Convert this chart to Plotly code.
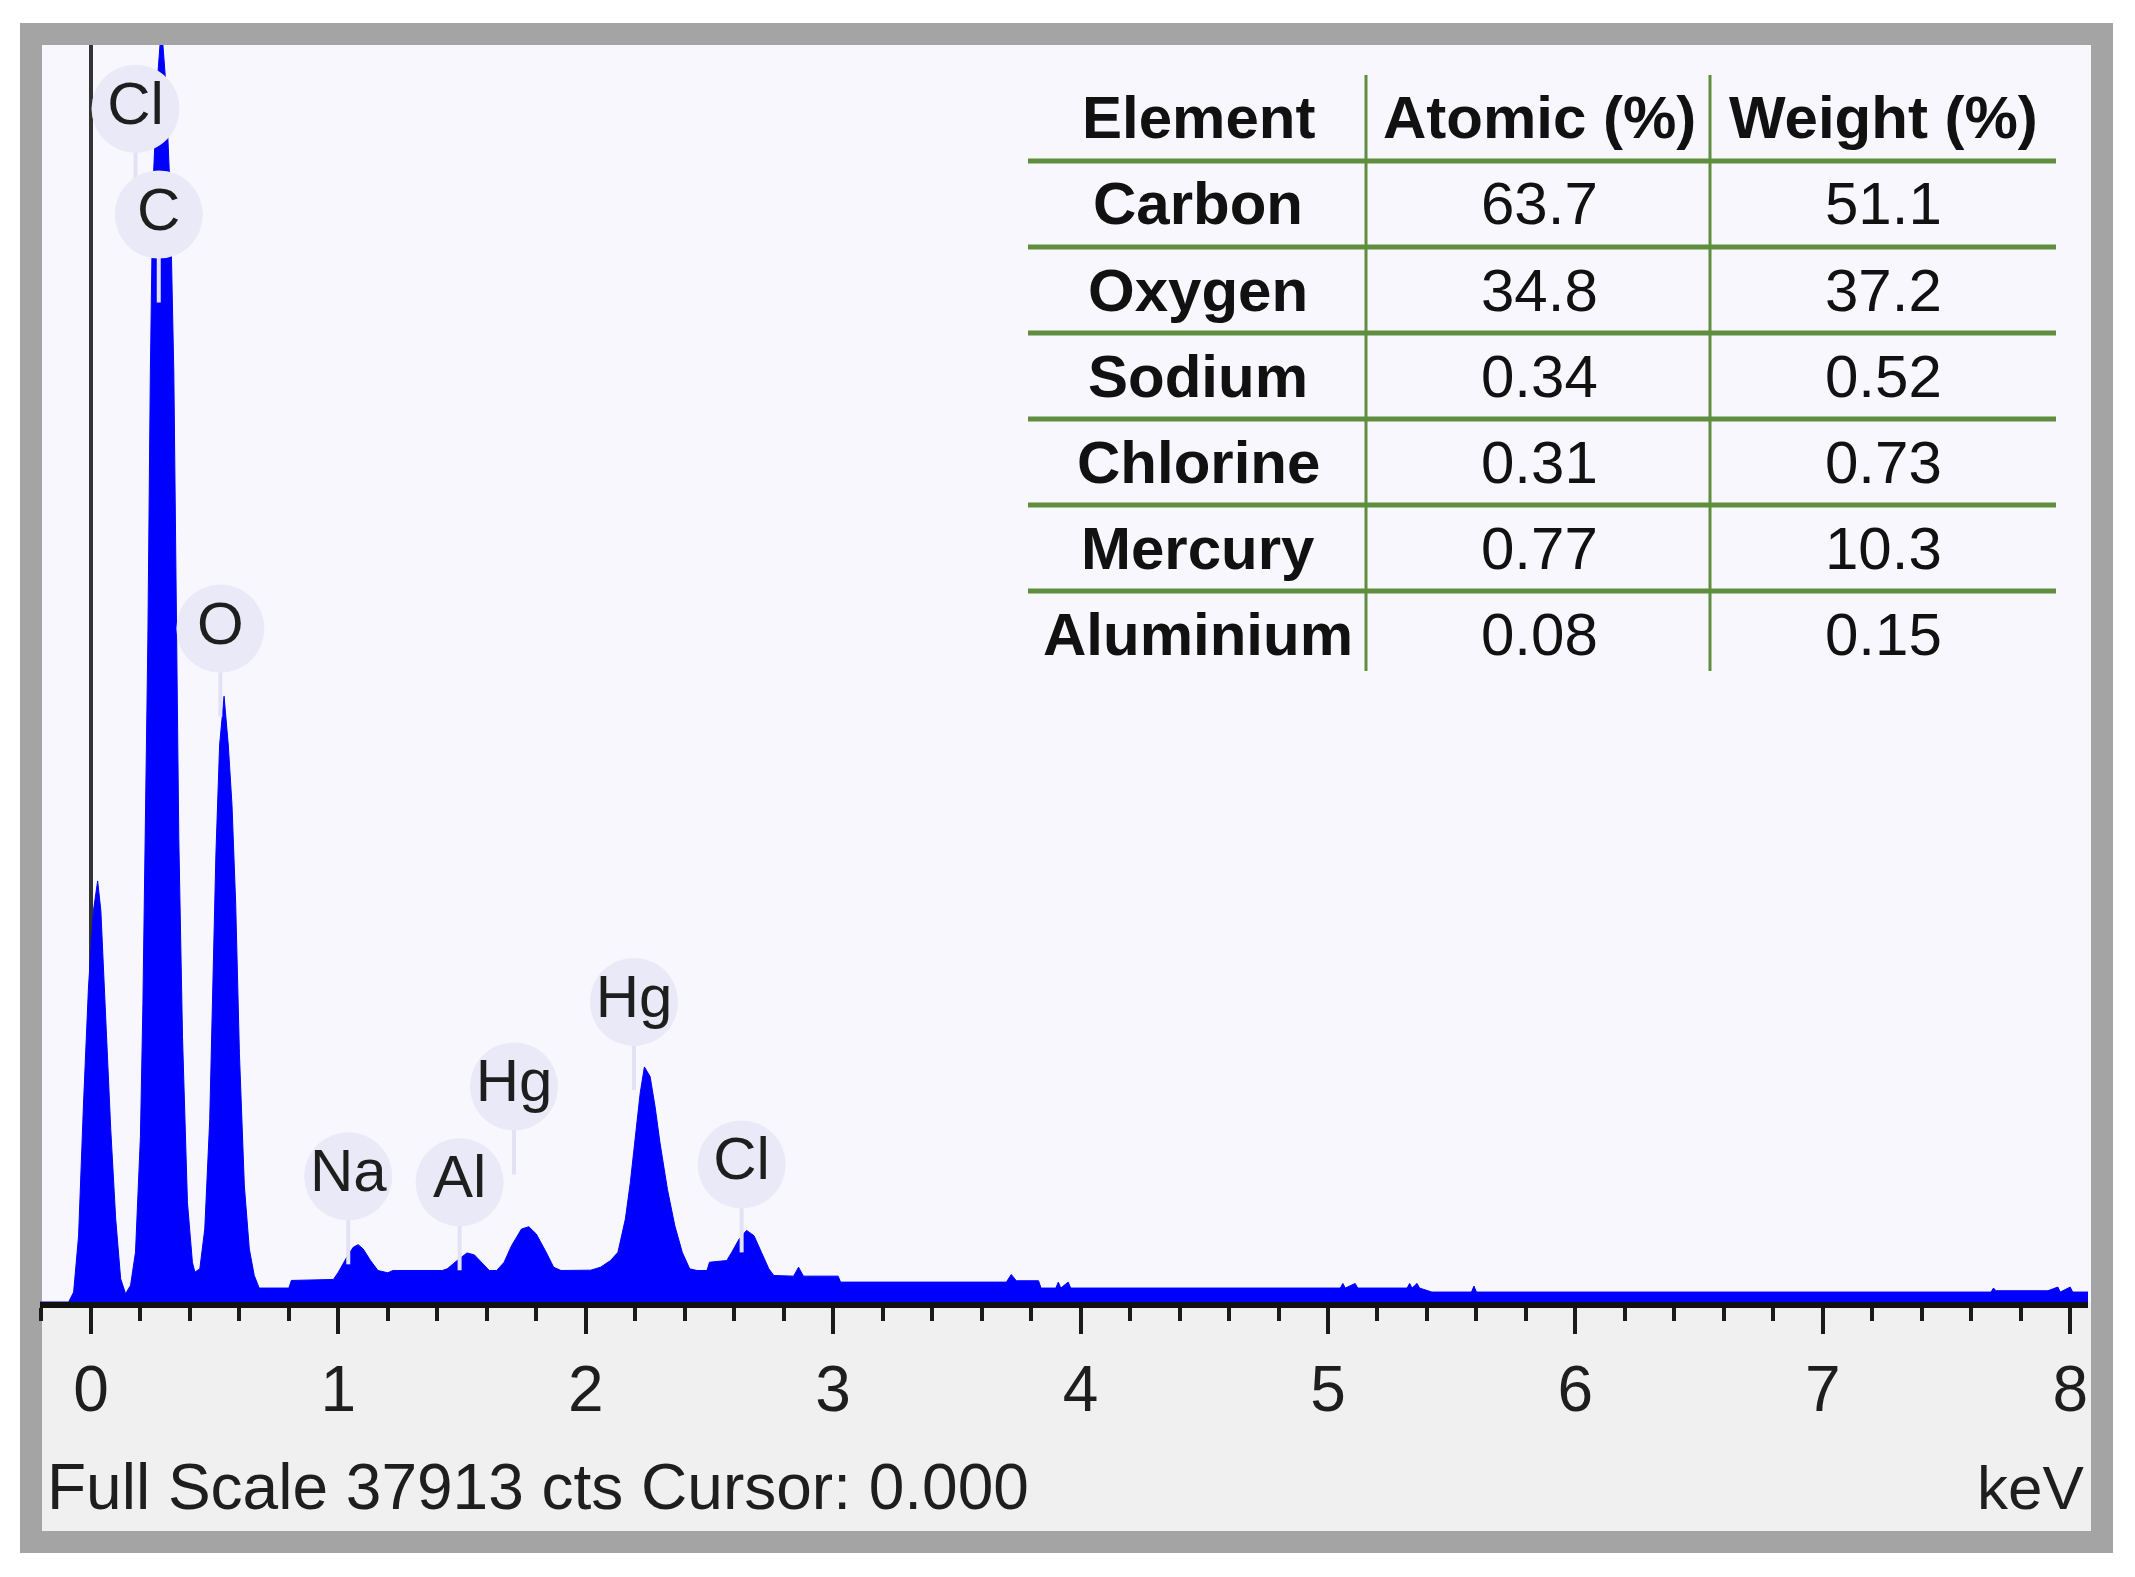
import plotly.graph_objects as go

# EDS spectrum
FULL_SCALE = 37913

energy_kev = [
    -0.205, -0.09, -0.07, -0.05, -0.03, -0.01, 0.01, 0.027, 0.04, 0.06, 0.08, 0.10, 0.12, 0.14,
    0.16, 0.18, 0.20, 0.21, 0.22, 0.23, 0.24, 0.25, 0.27, 0.285, 0.30, 0.32, 0.335, 0.345,
    0.355, 0.37, 0.39, 0.41, 0.42,
    0.44, 0.46, 0.48, 0.49, 0.505, 0.52, 0.538, 0.555, 0.57, 0.585, 0.60, 0.62, 0.64, 0.66, 0.68,
    0.80, 0.81, 0.98, 1.00, 1.03, 1.06, 1.08, 1.10, 1.13, 1.16, 1.20, 1.22, 1.42,
    1.44, 1.48, 1.52, 1.55, 1.58, 1.61, 1.64, 1.67, 1.70, 1.74, 1.77, 1.80, 1.84, 1.87, 1.90,
    2.02, 2.06, 2.10, 2.13, 2.16, 2.18, 2.20, 2.22, 2.237, 2.26, 2.28, 2.30, 2.33, 2.36, 2.39,
    2.42, 2.45, 2.49, 2.50, 2.57, 2.59, 2.62, 2.65, 2.68, 2.71, 2.74, 2.76, 2.84, 2.86, 2.88,
    3.02, 3.03, 3.70, 3.72, 3.74, 3.83, 3.84, 3.90, 3.91, 3.92, 3.95, 3.96,
    5.05, 5.06, 5.07, 5.11, 5.12, 5.32, 5.33, 5.34, 5.36, 5.37, 5.42, 5.58, 5.59, 5.60,
    7.68, 7.69, 7.70, 7.91, 7.95, 7.96, 8.00, 8.01, 8.072,
]
counts = [
    0, 0, 300, 2000, 6000, 9500, 11800, 12700, 11800, 8500, 5200, 2500, 700, 250,
    500, 1500, 5000, 9000, 14000, 20000, 28000, 33500, 37000, 38500, 37000, 33500, 28000, 20000,
    14000, 8000, 3000, 1200, 900,
    1000, 2200, 5500, 9000, 13500, 16800, 18270, 16800, 15000, 12000, 7500, 3500, 1600, 800, 420,
    420, 650, 680, 900, 1300, 1650, 1730, 1600, 1250, 950, 880, 950, 950,
    1000, 1250, 1480, 1420, 1200, 950, 950, 1200, 1700, 2200, 2270, 2050, 1500, 1050, 950,
    960, 1050, 1250, 1500, 2500, 3600, 5000, 6300, 7090, 6800, 5900, 4800, 3400, 2300, 1500,
    1000, 950, 950, 1200, 1250, 1500, 1900, 2160, 2000, 1500, 1000, 800, 780, 1050, 780,
    780, 600, 600, 830, 640, 640, 420, 420, 600, 420, 600, 420,
    420, 560, 420, 560, 420, 420, 560, 420, 560, 420, 300, 300, 480, 300,
    300, 420, 340, 340, 450, 300, 450, 300, 300,
]

peak_labels = ["Cl", "C", "O", "Na", "Al", "Hg", "Hg", "Cl"]
peak_label_kev = [0.18, 0.274, 0.523, 1.04, 1.49, 1.71, 2.195, 2.63]
peak_label_counts = [35990, 32800, 20310, 3790, 3610, 6500, 9050, 4150]

table_header = ["Element", "Atomic (%)", "Weight (%)"]
elements = ["Carbon", "Oxygen", "Sodium", "Chlorine", "Mercury", "Aluminium"]
atomic_pct = ["63.7", "34.8", "0.34", "0.31", "0.77", "0.08"]
weight_pct = ["51.1", "37.2", "0.52", "0.73", "10.3", "0.15"]

W, H = 2135, 1577
# the page body adds an 8 px margin, so the figure is pulled up/left by 8
PAGE_PAD = 8
PLOT_LEFT, PLOT_RIGHT, PLOT_TOP, PLOT_BOTTOM = 40, 2088, 45, 1302
L = PLOT_LEFT - PAGE_PAD
T = PLOT_TOP - PAGE_PAD
R = W - (PLOT_RIGHT - PAGE_PAD)
B = H - (PLOT_BOTTOM - PAGE_PAD)
PW = PLOT_RIGHT - PLOT_LEFT
PH = PLOT_BOTTOM - PLOT_TOP
FONT = "Liberation Sans, Arial, sans-serif"
BLUE = "#0000FF"
GREEN = "#5f8f3e"
STEM = 0.07 * FULL_SCALE


def px(x):
    return (x - PLOT_LEFT) / PW


def py(y):
    return (PLOT_BOTTOM - y) / PH


fig = go.Figure()

fig.add_trace(
    go.Scatter(
        x=energy_kev,
        y=counts,
        mode="lines",
        fill="tozeroy",
        fillcolor=BLUE,
        line={"color": BLUE, "width": 1},
        hoverinfo="skip",
        showlegend=False,
    )
)

stem_x, stem_y = [], []
for e, c in zip(peak_label_kev, peak_label_counts):
    stem_x += [e, e, None]
    stem_y += [c, c - STEM, None]
fig.add_trace(
    go.Scatter(
        x=stem_x,
        y=stem_y,
        mode="lines",
        line={"color": "#e2e2f4", "width": 4},
        hoverinfo="skip",
        showlegend=False,
    )
)
fig.add_trace(
    go.Scatter(
        x=peak_label_kev,
        y=peak_label_counts,
        mode="markers+text",
        text=peak_labels,
        textposition="middle center",
        textfont={"family": FONT, "size": 60, "color": "#1e1e1e"},
        marker={"symbol": "circle", "size": 88, "color": "#e9e9f7", "line": {"width": 0}},
        cliponaxis=False,
        hoverinfo="skip",
        showlegend=False,
    )
)

shapes = [
    # window frame, label strip and plot panel
    dict(type="rect", xref="paper", yref="paper", layer="below", line_width=0,
         x0=px(20), x1=px(2113), y0=py(1553), y1=py(23), fillcolor="#a4a4a4"),
    dict(type="rect", xref="paper", yref="paper", layer="below", line_width=0,
         x0=px(42), x1=px(2091), y0=py(1531), y1=py(45), fillcolor="#f0f0f0"),
    dict(type="rect", xref="paper", yref="paper", layer="below", line_width=0,
         x0=px(42), x1=px(2091), y0=py(1302), y1=py(45), fillcolor="#f7f7fd"),
]

# results table
TABLE_LEFT, TABLE_RIGHT = 1028, 2056
COL_LINES = [1366, 1710]
COL_CENTERS = [1198, 1539, 1883]
HEADER_Y = 118
ROW_LINE0 = 161
ROW_STEP = 86

for i in range(len(elements)):
    y = ROW_LINE0 + i * ROW_STEP
    shapes.append(dict(type="line", xref="paper", yref="paper", x0=px(TABLE_LEFT),
                       x1=px(TABLE_RIGHT), y0=py(y), y1=py(y),
                       line={"color": GREEN, "width": 5}))
for xl in COL_LINES:
    shapes.append(dict(type="line", xref="paper", yref="paper", x0=px(xl), x1=px(xl),
                       y0=py(75), y1=py(671), line={"color": GREEN, "width": 3}))

annotations = []
for xc, head in zip(COL_CENTERS, table_header):
    annotations.append(dict(x=px(xc), y=py(HEADER_Y), text=f"<b>{head}</b>"))
for i, (el, at, wt) in enumerate(zip(elements, atomic_pct, weight_pct)):
    yc = ROW_LINE0 + ROW_STEP / 2 + i * ROW_STEP
    annotations.append(dict(x=px(COL_CENTERS[0]), y=py(yc), text=f"<b>{el}</b>"))
    annotations.append(dict(x=px(COL_CENTERS[1]), y=py(yc), text=at))
    annotations.append(dict(x=px(COL_CENTERS[2]), y=py(yc), text=wt))
for a in annotations:
    a.update(xref="paper", yref="paper", showarrow=False, xanchor="center", yanchor="middle",
             font={"family": FONT, "size": 60, "color": "#111111"})

annotations.append(dict(x=px(45), y=py(1487), xref="paper", yref="paper", showarrow=False,
                        xanchor="left", yanchor="middle",
                        text=f"Full Scale {FULL_SCALE} cts Cursor: 0.000",
                        font={"family": FONT, "size": 64, "color": "#1e1e1e"}))
annotations.append(dict(x=px(2086), y=py(1487), xref="paper", yref="paper", showarrow=False,
                        xanchor="right", yanchor="middle", text="keV",
                        font={"family": FONT, "size": 62, "color": "#1e1e1e"}))

fig.update_xaxes(
    range=[-0.206, 8.072],
    showgrid=False,
    zeroline=True,
    zerolinecolor="#333333",
    zerolinewidth=4,
    showline=True,
    linecolor="#111111",
    linewidth=6,
    ticks="outside",
    tick0=0,
    dtick=1,
    ticklen=26,
    tickwidth=4,
    tickcolor="#1a1a1a",
    minor={"dtick": 0.2, "ticks": "outside", "ticklen": 13, "tickwidth": 4,
           "tickcolor": "#1a1a1a", "showgrid": False},
    tickfont={"family": FONT, "size": 64, "color": "#1e1e1e"},
    fixedrange=True,
)
fig.update_yaxes(range=[0, FULL_SCALE], visible=False, showgrid=False, zeroline=False)

fig.update_layout(
    width=W,
    height=H,
    margin={"l": L, "r": R, "t": T, "b": B},
    paper_bgcolor="white",
    plot_bgcolor="rgba(0,0,0,0)",
    shapes=shapes,
    annotations=annotations,
    showlegend=False,
)

fig.write_html("out.html")
